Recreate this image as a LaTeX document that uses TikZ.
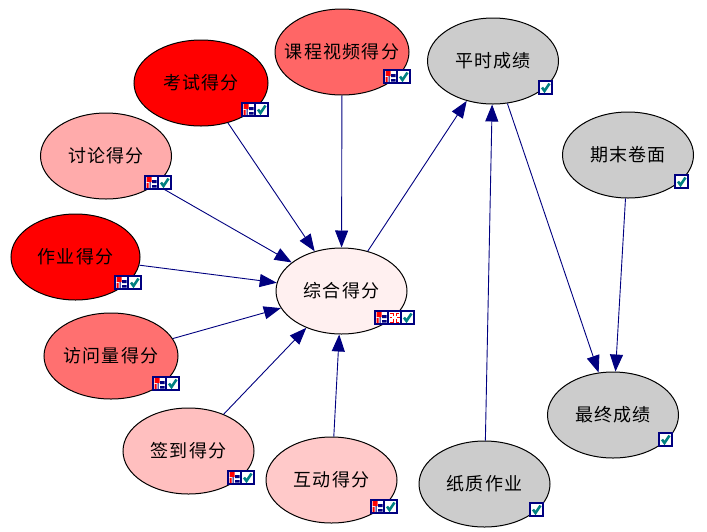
\documentclass[tikz,border=0pt]{standalone}
\usepackage{xcolor}
\usepackage{fontspec}
\usetikzlibrary{arrows.meta,shapes.geometric}
\newfontfamily\cjk[LetterSpace=7]{Noto Sans CJK SC}
\newcommand{\lab}[1]{\makebox[0pt][c]{#1}}
\definecolor{navyx}{HTML}{000080}
\definecolor{tealx}{HTML}{008080}
\definecolor{grayx}{HTML}{CCCCCC}
\definecolor{redx}{HTML}{FF0000}
\tikzset{
  ar/.style={-{Triangle[length=17pt,width=13pt]},navyx,line width=0.9pt},
  sc/.style={ellipse,draw=black,line width=1pt,minimum width=131pt,minimum height=86pt,inner sep=0pt,font=\cjk\fontsize{18}{18}\selectfont,text=black},
  wide/.style={minimum width=134pt},
  ibox/.style={draw=navyx,line width=1.2pt,fill=white},
  chkic/.pic={
    \draw[ibox] (0,0) rectangle (13,13);
    \draw[tealx,line width=2.6pt] (3,6.5)--(5.5,10)--(10.5,2.5);
  },
  treeic/.pic={
    \draw[ibox] (0,0) rectangle (13,13);
    \fill[redx] (1.5,1) rectangle (6.5,6) (1.5,7) rectangle (3.5,12);
    \fill[navyx] (7,4) rectangle (11.5,7) (7,9) rectangle (11.5,11.5) (4.5,6) rectangle (5.5,12);
  },
  crossic/.pic={
    \draw[ibox] (0,0) rectangle (13,13);
    \draw[redx,line width=1pt] (2,2)--(5,2)--(5,5) (11,2)--(8,2)--(8,5) (2,11)--(5,11)--(5,8) (11,11)--(8,11)--(8,8) (1.5,6.5)--(4,6.5) (9,6.5)--(11.5,6.5);
  }
}
\begin{document}
\begin{tikzpicture}[x=1pt,y=-1pt]
\useasboundingbox (0,0) rectangle (707,531);
\fill[white] (0,0) rectangle (707,531);
\node[sc,wide,fill=redx] (kaoshi) at (201,83) {\lab{考试得分}};
\node[sc,wide,fill=red!60] (shipin) at (342,52) {\lab{课程视频得分}};
\node[sc,fill=grayx] (pingshi) at (493,61) {\lab{平时成绩}};
\node[sc,fill=red!33] (taolun) at (106,156) {\lab{讨论得分}};
\node[sc,fill=grayx] (qimo) at (628,155) {\lab{期末卷面}};
\node[sc,minimum width=129pt,fill=redx] (zuoye) at (75.5,257) {\lab{作业得分}};
\node[sc,fill=red!6] (zonghe) at (341.5,291) {\lab{综合得分}};
\node[sc,wide,fill=red!56] (fangwen) at (111,356) {\lab{访问量得分}};
\node[sc,fill=grayx] (zuizhong) at (613,415) {\lab{最终成绩}};
\node[sc,fill=red!25] (qiandao) at (188.5,451) {\lab{签到得分}};
\node[sc,fill=red!21] (hudong) at (331.5,480) {\lab{互动得分}};
\node[sc,fill=grayx] (zhizhi) at (484.5,484) {\lab{纸质作业}};
% connectors
\foreach \a/\b in {kaoshi/zonghe,shipin/zonghe,taolun/zonghe,zuoye/zonghe,fangwen/zonghe,qiandao/zonghe,hudong/zonghe,zonghe/pingshi,zhizhi/pingshi,pingshi/zuizhong,qimo/zuizhong}
  \draw[ar] (\a)--(\b);
% icons
\foreach \p in {(242,103),(384,70),(145,176),(115,276),(153,377),(228,471),(371,500),(375,311)}
  \pic at \p {treeic};
\pic at (388,311) {crossic};
\foreach \p in {(255,103),(397,70),(158,176),(128,276),(166,377),(241,471),(384,500),(401,311),(539,81),(675,175),(659,433),(530,503)}
  \pic at \p {chkic};
\end{tikzpicture}
\end{document}
